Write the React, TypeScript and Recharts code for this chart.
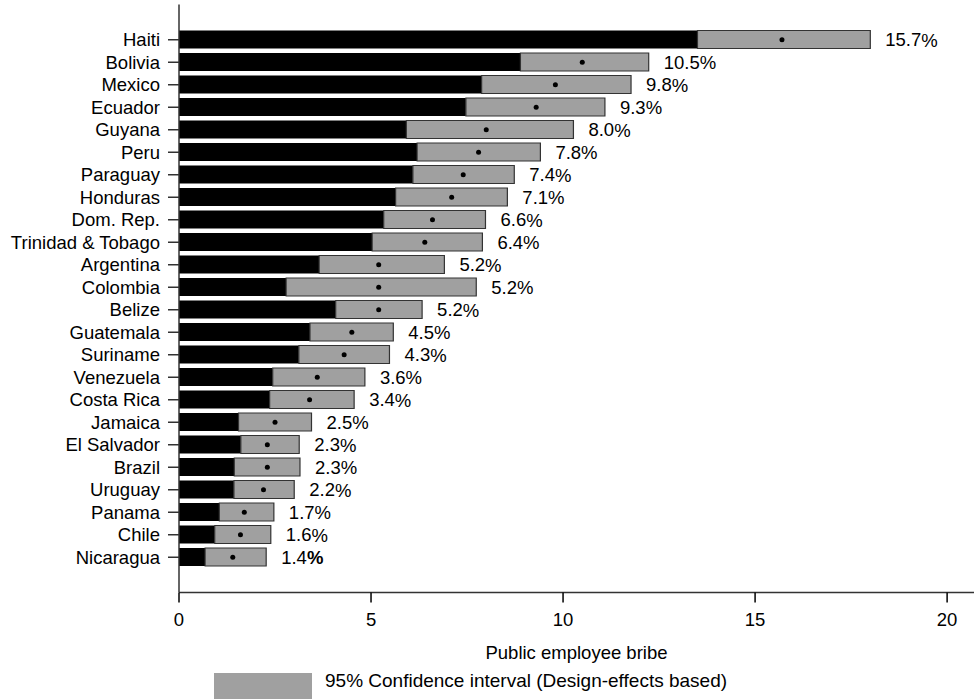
import React from 'react';
import { ComposedChart, Bar, Line, XAxis, YAxis, LabelList } from 'recharts';

const countries = [
  'Haiti', 'Bolivia', 'Mexico', 'Ecuador', 'Guyana', 'Peru', 'Paraguay', 'Honduras',
  'Dom. Rep.', 'Trinidad & Tobago', 'Argentina', 'Colombia', 'Belize', 'Guatemala',
  'Suriname', 'Venezuela', 'Costa Rica', 'Jamaica', 'El Salvador', 'Brazil', 'Uruguay',
  'Panama', 'Chile', 'Nicaragua'
];

// point estimates (% reporting a bribe request by a public employee)
const estimates = [
  15.7, 10.5, 9.8, 9.3, 8.0, 7.8, 7.4, 7.1, 6.6, 6.4, 5.2, 5.2, 5.2, 4.5, 4.3, 3.6, 3.4,
  2.5, 2.3, 2.3, 2.2, 1.7, 1.6, 1.4
];

// 95% confidence interval bounds
const lower = [
  13.5, 8.89, 7.88, 7.47, 5.92, 6.2, 6.09, 5.64, 5.33, 5.03, 3.65, 2.79, 4.08, 3.41,
  3.12, 2.44, 2.36, 1.55, 1.61, 1.44, 1.43, 1.05, 0.93, 0.68
];
const upper = [
  18.0, 12.23, 11.77, 11.09, 10.27, 9.41, 8.73, 8.55, 7.98, 7.9, 6.91, 7.74, 6.33, 5.58,
  5.48, 4.84, 4.56, 3.45, 3.13, 3.15, 3.0, 2.47, 2.39, 2.27
];

const xTicks = [0, 5, 10, 15, 20];

const FONT = '"Liberation Sans", Arial, Helvetica, sans-serif';
const FS = 18.5;

const rows = countries.map((country, i) => ({
  country,
  lo: lower[i],
  range: +(upper[i] - lower[i]).toFixed(2),
  est: estimates[i],
}));

const ValueLabel = (props: any) => {
  const { x, y, width, height, value, index } = props;
  const boldPct = rows[index]?.country === 'Nicaragua';
  return (
    <text
      x={x + width + 15}
      y={y + height / 2}
      dominantBaseline="central"
      fontSize={FS}
      fontFamily={FONT}
      fill="#000"
    >
      {Number(value).toFixed(1)}
      <tspan fontWeight={boldPct ? 'bold' : 'normal'}>%</tspan>
    </text>
  );
};

export default function App() {
  return (
    <div style={{ position: 'absolute', left: 0, top: 0, width: 974, height: 699, background: '#fff' }}>
      <ComposedChart
        width={974}
        height={699}
        data={rows}
        layout="vertical"
        margin={{ top: 4.5, right: 0, bottom: 36.5, left: 0 }}
        barSize={18}
      >
        <XAxis
          type="number"
          domain={[0, 20.7]}
          ticks={xTicks}
          allowDataOverflow
          axisLine={{ stroke: '#333', strokeWidth: 1.5 }}
          tickLine={{ stroke: '#000', strokeWidth: 1.5 }}
          tickSize={10}
          tickMargin={10}
          height={70}
          tick={{ fill: '#000', fontSize: FS, fontFamily: FONT }}
          label={{ value: 'Public employee bribe', position: 'insideBottom', offset: 4, fill: '#000', fontSize: FS, fontFamily: FONT }}
        />
        <YAxis
          type="category"
          dataKey="country"
          width={179}
          interval={0}
          padding={{ top: 24, bottom: 24 }}
          axisLine={{ stroke: '#333', strokeWidth: 1.5 }}
          tickLine={{ stroke: '#333', strokeWidth: 1.5 }}
          tickSize={11}
          tickMargin={8}
          tick={{ fill: '#000', fontSize: FS, fontFamily: FONT }}
        />
        <Bar dataKey="lo" stackId="ci" fill="#000" isAnimationActive={false} />
        <Bar dataKey="range" stackId="ci" fill="#a0a0a0" stroke="#333" strokeWidth={1.2} isAnimationActive={false}>
          <LabelList dataKey="est" content={<ValueLabel />} />
        </Bar>
        <Line
          dataKey="est"
          stroke="none"
          dot={{ r: 2.5, fill: '#000', stroke: 'none' }}
          activeDot={false}
          isAnimationActive={false}
        />
      </ComposedChart>
      {/* legend */}
      <svg width={974} height={40} style={{ position: 'absolute', left: 0, top: 659 }}>
        <rect x={214} y={14} width={98} height={26} fill="#a0a0a0" />
        <text x={325} y={28.3} fontSize={19} fontFamily={FONT} fill="#000">
          95% Confidence interval (Design-effects based)
        </text>
      </svg>
    </div>
  );
}
